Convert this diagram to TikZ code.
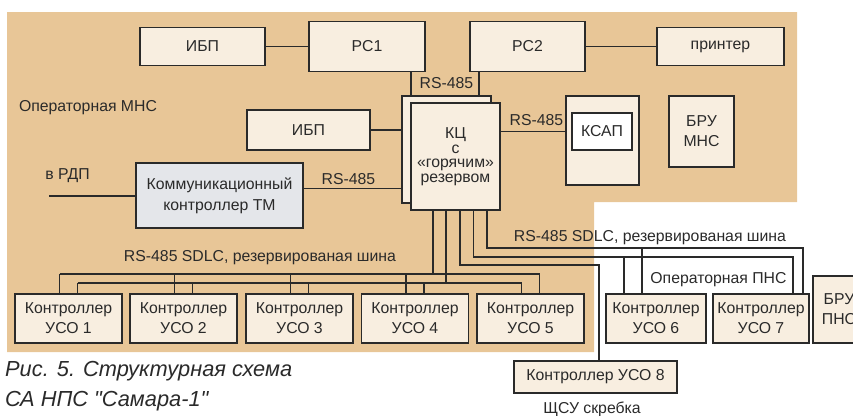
\documentclass[tikz,border=0pt]{standalone}
\usepackage{fontspec}
\setmainfont{Liberation Sans}
\newfontfamily\capfont{Liberation Sans}
\usepackage{tikz}

\definecolor{tanbg}{HTML}{E8C697}
\definecolor{cream}{HTML}{F8EEE0}
\definecolor{commgray}{HTML}{E4E6EA}
\definecolor{ink}{HTML}{2A2A2A}

\begin{document}
\begin{tikzpicture}[x=1pt, y=-1pt,
  blk/.style = {draw=ink, fill=cream, line width=1.5pt, inner sep=0pt, align=center, text=ink, font=\fontsize{15.8}{20}\selectfont},
  lbl/.style = {inner sep=0pt, text=ink, font=\fontsize{15.8}{18}\selectfont},
  captxt/.style = {inner sep=0pt, anchor=west, text=ink, font=\capfont\fontsize{21.8}{24}\selectfont\itshape},
  wire/.style = {draw=ink, line width=1.6pt}]

\useasboundingbox (0,0) rectangle (853,415);

%% background of the operator rooms
\fill[tanbg] (7,12) -- (797,12) -- (797,202) -- (594,202) -- (594,352) -- (7,352) -- cycle;

%% upper row
\node[blk, minimum width=125, minimum height=38] (ibp1) at (202.5, 46.5) {ИБП};
\node[blk, minimum width=116, minimum height=50] (pc1) at (367, 46.5) {PC1};
\node[blk, minimum width=115, minimum height=50] (pc2) at (527.5, 46.5) {PC2};
\node[blk, minimum width=127, minimum height=38] (prn) at (720.5, 46.5) {принтер};

%% central controller with hot standby
\node[blk, minimum width=89, minimum height=107] (kcBack) at (446.5, 149.5) {};
\node[blk, minimum width=89, minimum height=107, font=\fontsize{15.8}{14.5}\selectfont] (kc) at (455.5, 156.5) {КЦ\\с\\«горячим»\\резервом};

\node[blk, minimum width=123, minimum height=40] (ibp2) at (308.5, 130) {ИБП};
\node[blk, minimum width=73, minimum height=89] (ksapBox) at (602.5, 140.5) {};
\node[blk, fill=white, minimum width=60, minimum height=37] (ksap) at (602, 131.5) {КСАП};
\node[blk, minimum width=65, minimum height=71] (bruM) at (701.5, 131.5) {БРУ\\МНС};
\node[blk, fill=commgray, minimum width=167, minimum height=65, font=\fontsize{15.8}{21}\selectfont] (comm) at (219.5, 195.5) {Коммуникационный\\контроллер ТМ};

%% field controllers
\node[blk, minimum width=107, minimum height=49] (uso1) at (68.5, 318.5) {Контроллер\\УСО 1};
\node[blk, minimum width=107, minimum height=49] (uso2) at (183.5, 318.5) {Контроллер\\УСО 2};
\node[blk, minimum width=107, minimum height=49] (uso3) at (299.5, 318.5) {Контроллер\\УСО 3};
\node[blk, minimum width=107, minimum height=49] (uso4) at (415, 318.5) {Контроллер\\УСО 4};
\node[blk, minimum width=107, minimum height=49] (uso5) at (530.5, 318.5) {Контроллер\\УСО 5};
\node[blk, minimum width=100, minimum height=49] (uso6) at (656, 318.5) {Контроллер\\УСО 6};
\node[blk, minimum width=96, minimum height=49] (uso7) at (761, 318.5) {Контроллер\\УСО 7};
\node[blk, minimum width=52, minimum height=67] (bruP) at (839, 309.5) {БРУ\\ПНС};
\node[blk, minimum width=163, minimum height=32] (uso8) at (595.5, 377) {Контроллер УСО 8};

%% labels
\node[lbl] (opMNS) at (88, 108) {Операторная МНС};
\node[lbl] (opPNS) at (718.5, 280) {Операторная ПНС};
\node[lbl] (rdpLbl) at (67.5, 176) {в РДП};
\node[lbl] (rsTop) at (446.5, 83) {RS-485};
\node[lbl] (rsKsap) at (536.5, 120) {RS-485};
\node[lbl] (rsComm) at (348.5, 179) {RS-485};
\node[lbl] (busLbl1) at (260, 258) {RS-485 SDLC, резервированая шина};
\node[lbl] (busLbl2) at (650, 238) {RS-485 SDLC, резервированая шина};
\node[lbl] (shsu) at (592, 409) {ЩСУ скребка};
\node[captxt] (cap1) at (5, 371) {Рис. 5. Структурная схема};
\node[captxt] (cap2) at (5, 401) {СА НПС "Самара-1"};

%% bus levels
\coordinate (rdp) at (49, 196);
\coordinate (busR1) at (0, 248);
\coordinate (busR2) at (0, 257);
\coordinate (busR3) at (0, 265);
\coordinate (busU) at (0, 274);
\coordinate (busL) at (0, 283);

%%% edges
\draw[wire] (ibp1) -- (pc1);
\draw[wire] (pc2) -- (prn);
\draw[wire] ([xshift=10]kcBack.north west) -- ([xshift=10]kcBack.north west |- pc1.south);
\draw[wire] ([xshift=-13]kcBack.north east) -- ([xshift=-13]kcBack.north east |- pc2.south);
\draw[wire] (ibp2.east) -- (ibp2.east -| kcBack.west);
\draw[wire] (ksap.west -| kc.east) -- (ksap.west -| ksapBox.west);
\draw[wire] ([yshift=7]comm.east) -- ([yshift=7]comm.east -| kcBack.west);
\draw[wire] (rdp) -- (rdp -| comm.west);

%% reserved bus, main operator room
\draw[wire] ([xshift=-9]uso1.north |- busU) -- ([xshift=9]uso5.north |- busU);
\draw[wire] ([xshift=9]uso1.north |- busL) -- ([xshift=-9]uso5.north |- busL);
\foreach \i/\u/\l in {1/-9/9, 2/-9/9, 3/-9/9, 4/-9/9, 5/9/-9} {
  \draw[wire] ([xshift=\u]uso\i.north) -- ([xshift=\u]uso\i.north |- busU);
  \draw[wire] ([xshift=\l]uso\i.north) -- ([xshift=\l]uso\i.north |- busL);
}
\draw[wire] ([xshift=-22.5]kc.south) -- ([xshift=-22.5]kc.south |- busU);
\draw[wire] ([xshift=-9.5]kc.south) -- ([xshift=-9.5]kc.south |- busL);

%% lines to the other rooms
\draw[wire] ([xshift=4.5]kc.south) |- ([xshift=3.5]uso8.north |- busR3) -- ([xshift=3.5]uso8.north);
\draw[wire] ([xshift=18]kc.south) |- ([xshift=32]uso7.north |- busR2) -- ([xshift=32]uso7.north);
\draw[wire] ([xshift=31.5]kc.south) |- ([xshift=42]uso7.north |- busR1) -- ([xshift=42]uso7.north);
\draw[wire] ([xshift=-32]uso6.north) -- ([xshift=-32]uso6.north |- busR2);
\draw[wire] ([xshift=-14]uso6.north) -- ([xshift=-14]uso6.north |- busR1);

\end{tikzpicture}
\end{document}
